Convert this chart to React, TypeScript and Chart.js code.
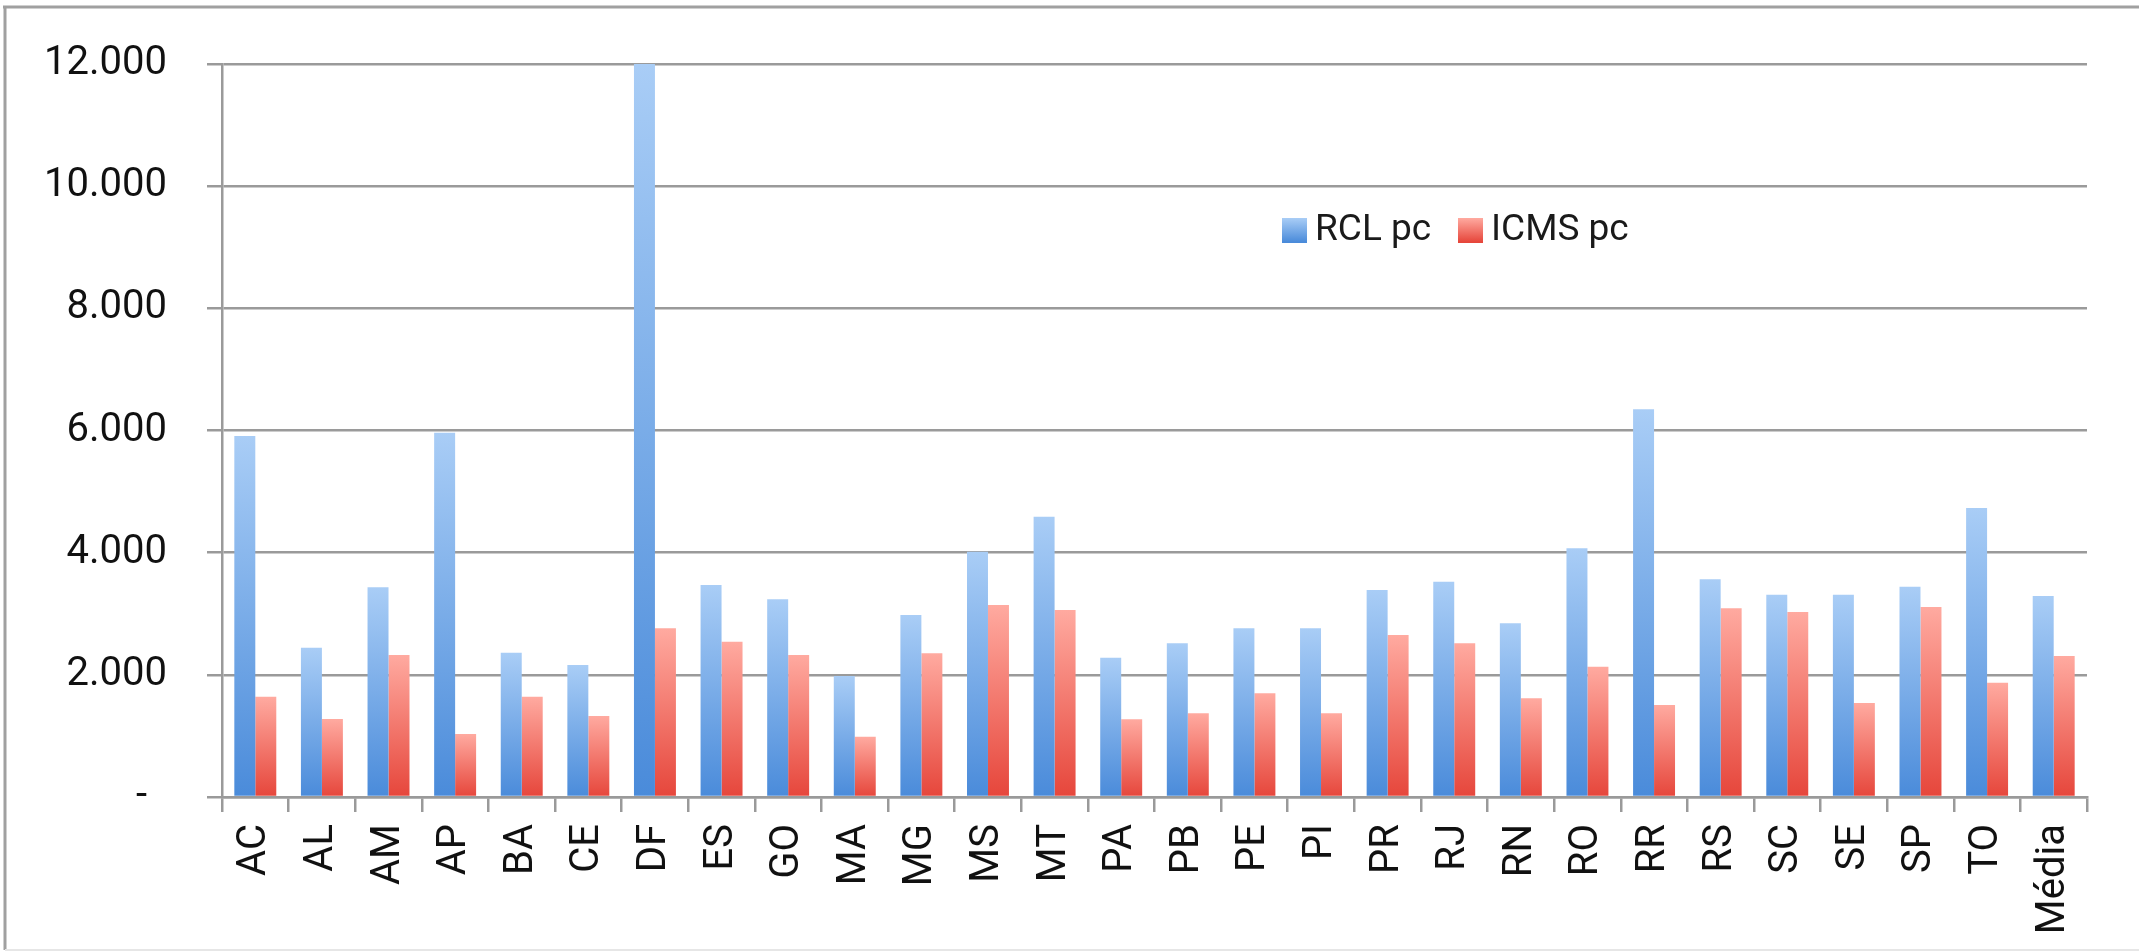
import React, { useEffect, useRef } from "react";
import { Chart, registerables } from "chart.js";

Chart.register(...registerables);

const categories = ["AC","AL","AM","AP","BA","CE","DF","ES","GO","MA","MG","MS","MT","PA","PB","PE","PI","PR","RJ","RN","RO","RR","RS","SC","SE","SP","TO","Média"];
const rclPc = [5910,2445,3433,5964,2362,2161,12000,3470,3236,1981,2979,4016,4589,2281,2516,2761,2761,3389,3525,2843,4071,6346,3563,3310,3310,3440,4730,3290];
const icmsPc = [1640,1277,2325,1031,1642,1326,2761,2543,2325,988,2352,3143,3061,1271,1370,1697,1370,2652,2516,1615,2133,1506,3089,3030,1540,3110,1870,2310];
const seriesLabels = ["RCL pc", "ICMS pc"];

const W = 2139;
const H = 952;
const FONT = "Roboto, 'Liberation Sans', sans-serif";

const BLUE_TOP = "#a9cdf6";
const BLUE_BOT = "#4a8bda";
const RED_TOP = "#ffaaa0";
const RED_BOT = "#e6463b";

function barGradient(ctx: any, top: string, bottom: string) {
  const chart = ctx.chart;
  const ca = chart.chartArea;
  if (!ca || ctx.type !== "data") return bottom;
  const ys = chart.scales.y;
  const yTop = Math.max(ys.getPixelForValue(ctx.raw), ca.top);
  const g = chart.ctx.createLinearGradient(0, yTop, 0, ca.bottom);
  g.addColorStop(0, top);
  g.addColorStop(1, bottom);
  return g;
}

function fmt(v: number) {
  if (v === 0) return "-  ";
  return Math.round(v).toString().replace(/\B(?=(\d{3})+(?!\d))/g, ".");
}

const framePlugin = {
  id: "frame",
  beforeDraw(chart: any) {
    const c = chart.ctx;
    c.save();
    c.fillStyle = "#ffffff";
    c.fillRect(0, 0, chart.width, chart.height);
    c.strokeStyle = "#a0a0a0";
    c.lineWidth = 3;
    c.beginPath();
    c.moveTo(3, 7);
    c.lineTo(chart.width, 7);
    c.moveTo(5, 7);
    c.lineTo(5, chart.height - 2);
    c.stroke();
    c.strokeStyle = "#e6e6e6";
    c.lineWidth = 2;
    c.beginPath();
    c.moveTo(5, chart.height - 2);
    c.lineTo(chart.width, chart.height - 2);
    c.stroke();
    c.restore();
  },
};

const legendPlugin = {
  id: "customLegend",
  afterDraw(chart: any) {
    const c = chart.ctx;
    const ca = chart.chartArea;
    const cy = ca.top + 166;
    const items = [
      { x: ca.left + 1060, label: seriesLabels[0], top: BLUE_TOP, bot: BLUE_BOT },
      { x: ca.left + 1236, label: seriesLabels[1], top: RED_TOP, bot: RED_BOT },
    ];
    c.save();
    c.font = `37px ${FONT}`;
    c.textBaseline = "middle";
    c.textAlign = "left";
    items.forEach((it) => {
      const g = c.createLinearGradient(0, cy - 12, 0, cy + 12);
      g.addColorStop(0, it.top);
      g.addColorStop(1, it.bot);
      c.fillStyle = g;
      c.fillRect(it.x, cy - 12, 25, 25);
      c.fillStyle = "#1a1a1a";
      c.fillText(it.label, it.x + 33, cy + 1);
    });
    c.restore();
  },
};

export default function App() {
  const ref = useRef<HTMLCanvasElement | null>(null);

  useEffect(() => {
    if (!ref.current) return;
    const chart = new Chart(ref.current, {
      type: "bar",
      data: {
        labels: categories,
        datasets: [
          {
            label: seriesLabels[0],
            data: rclPc,
            backgroundColor: (ctx: any) => barGradient(ctx, BLUE_TOP, BLUE_BOT),
            categoryPercentage: 0.63,
            barPercentage: 1,
          },
          {
            label: seriesLabels[1],
            data: icmsPc,
            backgroundColor: (ctx: any) => barGradient(ctx, RED_TOP, RED_BOT),
            categoryPercentage: 0.63,
            barPercentage: 1,
          },
        ],
      },
      options: {
        responsive: false,
        animation: false,
        devicePixelRatio: 1,
        layout: { padding: { left: 0, top: 64, right: 52, bottom: 0 } },
        plugins: {
          legend: { display: false },
          tooltip: { enabled: false },
        },
        scales: {
          x: {
            grid: {
              display: true,
              drawOnChartArea: false,
              drawTicks: true,
              tickLength: 15,
              color: "#9a9a9a",
              lineWidth: 2.5,
              offset: true,
            },
            border: { display: true, color: "#9a9a9a", width: 2.5 },
            ticks: {
              autoSkip: false,
              maxRotation: 90,
              minRotation: 90,
              padding: 12,
              color: "#111111",
              font: { family: FONT, size: 40 },
            },
            afterFit: (s: any) => {
              s.height = H - 797;
            },
          },
          y: {
            min: 0,
            max: 12000,
            ticks: {
              stepSize: 2000,
              padding: 40,
              color: "#111111",
              font: { family: FONT, size: 40 },
              callback: (v: any) => fmt(Number(v)),
            },
            grid: {
              color: "#9a9a9a",
              lineWidth: 2.5,
              tickLength: 15,
              drawTicks: true,
            },
            border: { display: true, color: "#9a9a9a", width: 2.5 },
            afterFit: (s: any) => {
              s.width = 222;
            },
          },
        },
      },
      plugins: [framePlugin, legendPlugin],
    });
    return () => chart.destroy();
  }, []);

  return (
    <div style={{ position: "fixed", left: 0, top: 0, width: W, height: H, background: "#fff" }}>
      <canvas ref={ref} width={W} height={H} style={{ display: "block", width: W, height: H }} />
    </div>
  );
}
